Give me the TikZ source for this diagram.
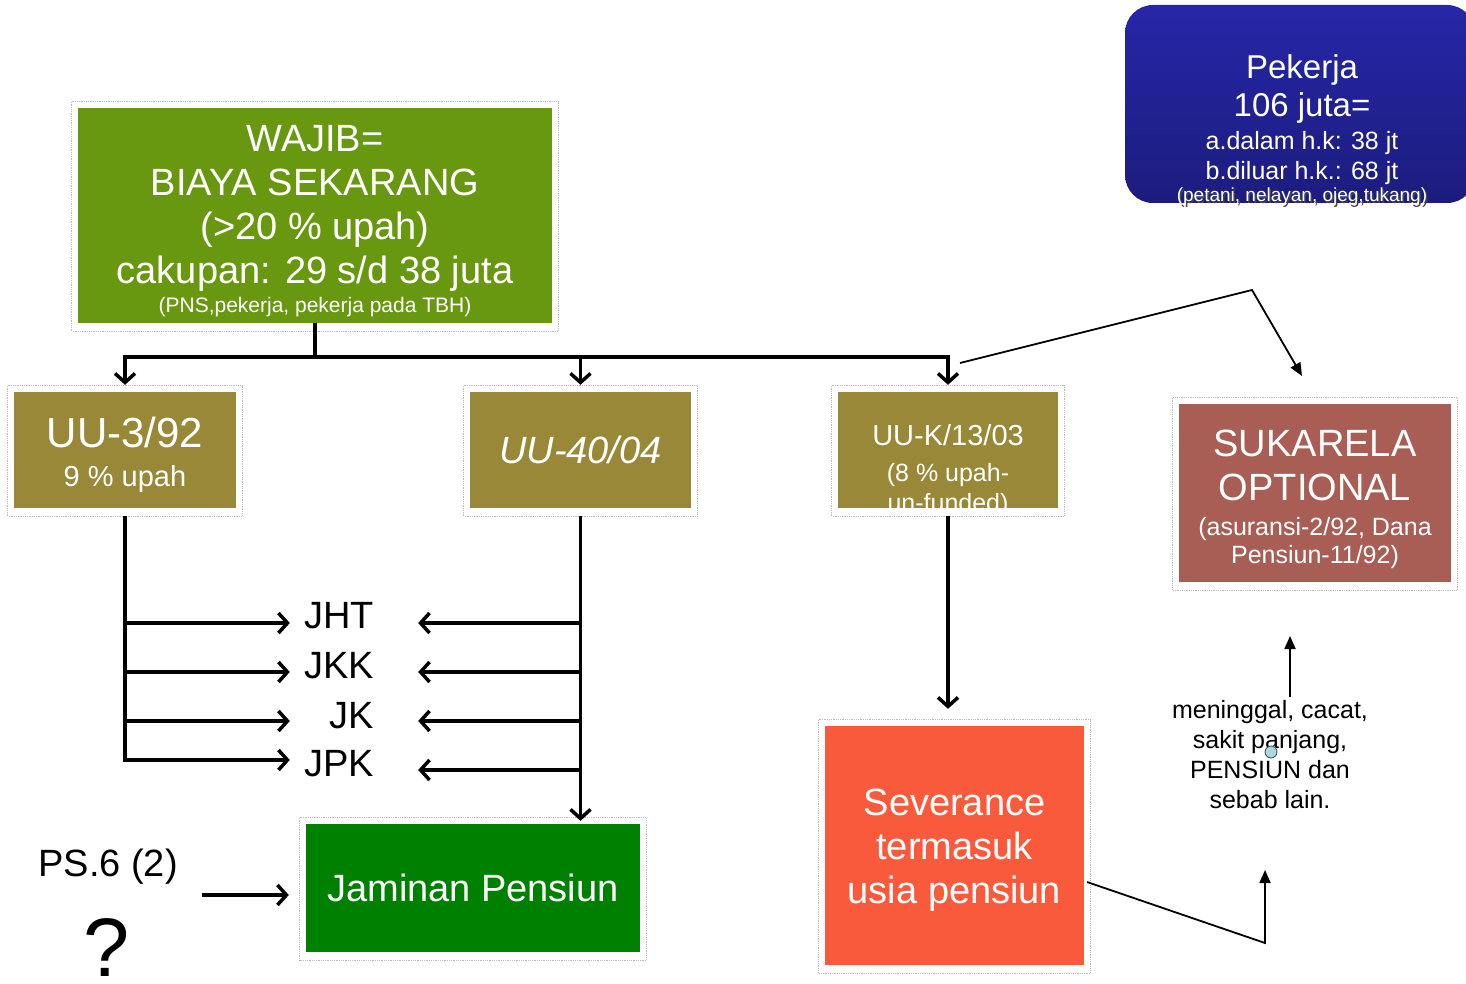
\documentclass[tikz,border=0pt]{standalone}
\usepackage{fontspec}
\setmainfont{Liberation Sans}
\usetikzlibrary{positioning,arrows.meta}
\tikzset{>=latex}

\definecolor{wajibgreen}{RGB}{104,152,16}
\definecolor{uuolive}{RGB}{152,136,56}
\definecolor{sukarelared}{RGB}{168,94,84}
\definecolor{jpgreen}{RGB}{0,128,0}
\definecolor{sevorange}{RGB}{250,90,60}
\definecolor{pekerjatop}{RGB}{38,38,168}
\definecolor{pekerjabot}{RGB}{28,28,126}
\definecolor{dotblue}{RGB}{170,216,224}

\newcommand{\fsz}[2]{\fontsize{#1}{#2}\selectfont}

\begin{document}
\begin{tikzpicture}[x=1pt,y=-1pt,
  box/.style={inner sep=0pt,align=center,text=white},
  frame/.style={draw=gray!55,densely dotted,line width=0.8pt},
  thick line/.style={line width=3.5pt},
  thick arr/.style={line width=3.5pt,-{Straight Barb[length=9pt,width=20pt]}},
  thin arr/.style={line width=1.8pt,-{Triangle[length=13pt,width=11pt]}},
  lbl/.style={font=\fsz{38}{44},text width=72pt,align=right,inner sep=12pt}]
\clip (0,0) rectangle (1466,984);

% boxes
\node[box,fill=wajibgreen,minimum width=474pt,minimum height=215pt] (wajib) at (315,215.5) {};
\node[box,font=\fsz{38}{44}] (wajibtxt) at (315,221)
  {WAJIB=\\BIAYA SEKARANG\\(>20 \% upah)\\cakupan: 29 s/d 38 juta\\[-15pt]\fsz{21}{25}(PNS,pekerja, pekerja pada TBH)};
\node[box,rounded corners=28pt,top color=pekerjatop,bottom color=pekerjabot,minimum width=350pt,minimum height=198pt] (pekerja) at (1300,104) {};
\node[box,font=\fsz{33}{38}] (pekerjatxt) at (1302,120)
  {Pekerja\\106 juta=\\[-5pt]\fsz{25}{30}a.dalam h.k: 38 jt\\[-8pt]\fsz{25}{30}b.diluar h.k.: 68 jt};
\node[box,text=gray!55!black] at (1303.5,198.5) {\fsz{19}{24}(petani, nelayan, ojeg,tukang)};
\node[box] (petani) at (1302,197) {\fsz{19}{24}(petani, nelayan, ojeg,tukang)};

\node[box,fill=uuolive,minimum width=222pt,minimum height=116pt] (uu3) at (125,450) {};
\node[box,font=\fsz{42}{43}] (uu3txt) at (125,454.5) {UU-3/92\\[-4pt]\fsz{29}{30}9 \% upah};
\node[box,fill=uuolive,minimum width=221pt,minimum height=116pt,font=\fsz{38}{44}\itshape] (uu40) at (580.5,450)
  {UU-40/04};
\node[box,fill=uuolive,minimum width=220pt,minimum height=116pt] (uuk) at (948,450) {};
\begin{scope}
\clip (uuk.south west) rectangle (uuk.north east);
\node[box,font=\fsz{29}{36}] (uuktxt) at (948,471) {UU-K/13/03\\\fsz{25}{30}(8 \% upah-\\[-6pt]\fsz{25}{30}un-funded)};
\end{scope}
\node[box,fill=sukarelared,minimum width=272pt,minimum height=178pt] (sukarela) at (1315,493) {};
\node[box,font=\fsz{38}{44}] (sukarelatxt) at (1315,499.5)
  {SUKARELA\\OPTIONAL\\[-9pt]\fsz{25}{30}(asuransi-2/92, Dana\\[-16pt]\fsz{25}{30}Pensiun-11/92)};
\node[box,fill=jpgreen,minimum width=334pt,minimum height=128pt,font=\fsz{38}{44}] (jp) at (473,888)
  {Jaminan Pensiun};
\node[box,fill=sevorange,minimum width=259pt,minimum height=239pt] (sev) at (954.5,845.5) {};
\node[box,font=\fsz{38}{44}] (sevtxt) at (954.5,850.5) {Severance\\termasuk\\usia pensiun};

% dotted frames
\foreach \b in {wajib,uu3,uu40,uuk,sukarela,jp,sev}
  \draw[frame] ([shift={(-6pt,6pt)}]\b.north west) rectangle ([shift={(6pt,-8pt)}]\b.south east);

% labels
\node[lbl] (jht) at (338,616) {JHT};
\node[lbl] (jkk) at (338,666) {JKK};
\node[lbl] (jk) at (338,716) {JK};
\node[lbl] (jpk) at (338,764) {JPK};
\node[font=\fsz{38}{44}] (ps6) at (108,867) {PS.6 (2)};
\node[font=\fsz{83}{90}] (qmark) at (107,948) {?};
\node[font=\fsz{25}{30},align=center] (alasan) at (1270,755)
  {meninggal, cacat,\\sakit panjang,\\PENSIUN dan\\sebab lain.};
\node[circle,draw=gray!50!black,fill=dotblue,line width=0.8pt,minimum size=12pt,inner sep=0pt] (dot) at (1271,752) {};

% tree from wajib
\coordinate (bus) at (315,357);
\draw[thick line] (wajib.south) -- (bus);
\draw[thick arr,shorten >=7pt] (bus) -| (uu3.north);
\draw[thick arr,shorten >=7pt] (bus) -| (uu40.north);
\draw[thick arr,shorten >=7pt] (bus) -| (uuk.north);

% left branch
\path ([yshift=-7pt]jht.west) coordinate (jhtL) ([yshift=-6pt]jkk.west) coordinate (jkkL)
      ([yshift=-5pt]jk.west) coordinate (jkL) ([yshift=4pt]jpk.west) coordinate (jpkL);
\draw[thick arr,shorten <=8pt] (uu3.south) |- (jpkL);
\foreach \c in {jhtL,jkkL,jkL}
  \draw[thick arr] (uu3.south |- \c) -- (\c);

% right branch
\path ([shift={(32pt,-7pt)}]jht.east) coordinate (jhtR) ([shift={(32pt,-6pt)}]jkk.east) coordinate (jkkR)
      ([shift={(32pt,-5pt)}]jk.east) coordinate (jkR) ([shift={(32pt,-6pt)}]jpk.east) coordinate (jpkR);
\draw[thick arr,shorten <=8pt,shorten >=3pt] (uu40.south) -- (uu40.south |- jp.north);
\foreach \c in {jhtR,jkkR,jkR,jpkR}
  \draw[thick arr] (uu40.south |- \c) -- (\c);

% UU-K to severance
\draw[thick arr,shorten <=8pt,shorten >=17pt] (uuk.south) -- (uuk.south |- sev.north);

% PS.6 arrow
\coordinate (psL) at (202,895);
\draw[thick arr,shorten >=17pt] (psL) -- (psL -| jp.west);

% thin connectors
\coordinate (kstart) at (960,363);
\coordinate (kbend) at (1252,290);
\coordinate (kend) at (1302,376);
\draw[thin arr] (kstart) -- (kbend) -- (kend);
\coordinate (sstart) at (1087,882);
\coordinate (sbend) at (1265,943);
\coordinate (send) at (1265,870);
\draw[thin arr] (sstart) -- (sbend) -- (send);
\coordinate (ustart) at (1290,697);
\coordinate (uend) at (1290,636);
\draw[thin arr] (ustart) -- (uend);
\end{tikzpicture}
\end{document}
